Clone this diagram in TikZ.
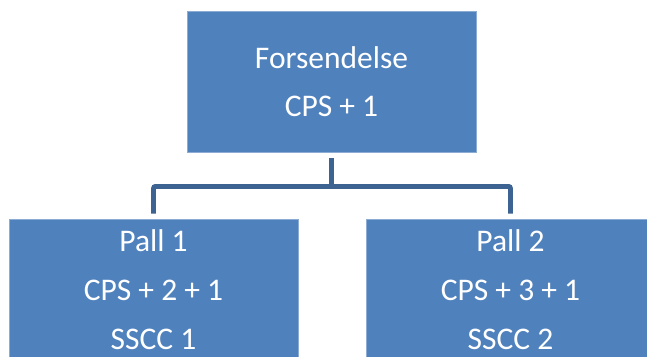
\documentclass[tikz,border=0pt]{standalone}
\usepackage{fontspec}
\setmainfont{Carlito}
\usepackage{tikz}
\usetikzlibrary{positioning}
\definecolor{BoxBlau}{RGB}{79,129,189}
\definecolor{BoxRand}{RGB}{140,172,212}
\definecolor{LinjeBlau}{RGB}{60,99,145}

\begin{document}
\begin{tikzpicture}[x=1pt, y=1pt,
    boks/.style={draw=BoxRand, line width=0.8pt, fill=BoxBlau, text=white, inner sep=0,
        minimum width=289pt, minimum height=141pt, align=center},
    linje/.style={draw=LinjeBlau, line width=4.8pt}]
\useasboundingbox (0,0) rectangle (647,-356);
\clip (0,0) rectangle (647,-356);
\node[boks, font=\fontsize{31.5}{48}\selectfont] (F) at (331.5, -81.5) {Forsendelse\\CPS + 1};
\foreach \i/\x/\n in {1/153.5/2, 2/510.5/3}
{
    \node[boks, font=\fontsize{31.5}{49}\selectfont] (P\i) at (\x, -289.5) {Pall \i\\CPS + \n\ + 1\\SSCC \i};
}
\coordinate[below=34pt of F.south] (J);
\draw[linje, shorten <=6pt] (F.south) -- (J);
\draw[linje, rounded corners=2pt, shorten <=5pt, shorten >=5pt] (P1.north) |- (J) -| (P2.north);
\end{tikzpicture}
\end{document}
